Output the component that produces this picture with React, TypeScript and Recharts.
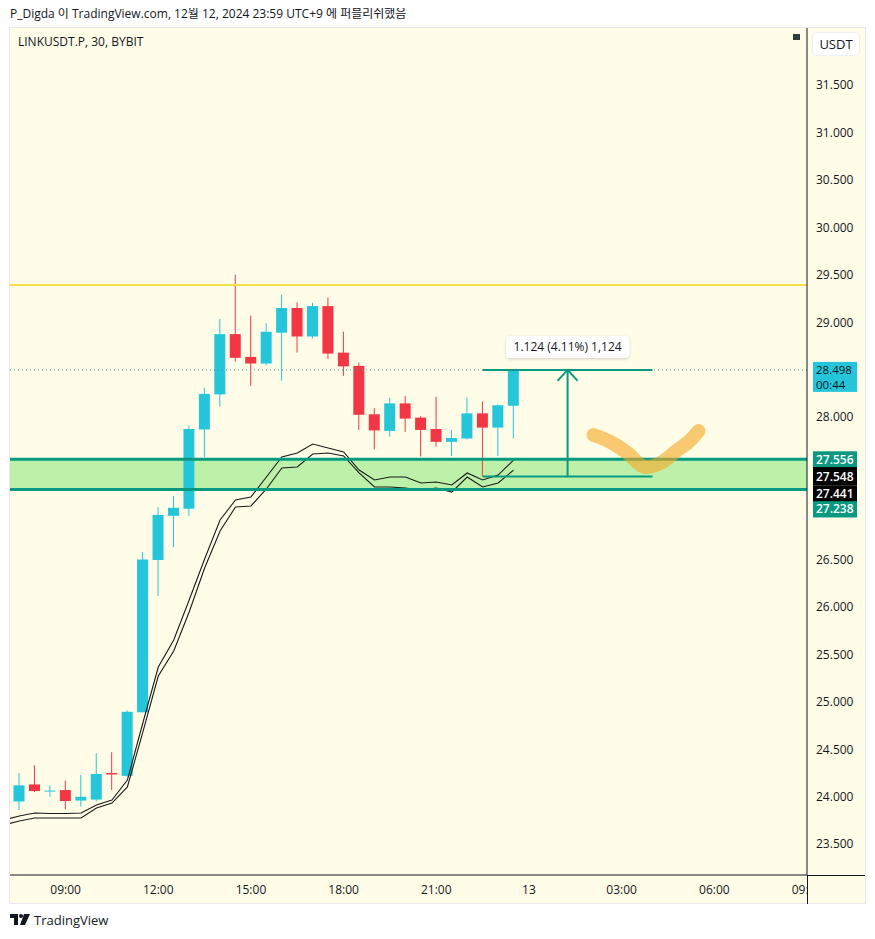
import React from "react";
import {
  ComposedChart,
  Bar,
  Line,
  XAxis,
  YAxis,
  ReferenceLine,
  ReferenceArea,
} from "recharts";

// ---- data (30-minute candles, LINKUSDT.P) ----
const candleIndex = [
  0, 1, 2, 3, 4, 5, 6, 7, 8, 9, 10, 11, 12, 13, 14, 15, 16, 17, 18, 19, 20, 21,
  22, 23, 24, 25, 26, 27, 28, 29, 30, 31, 32,
];
const openValues = [
  23.95, 24.13, 24.06, 24.07, 23.96, 23.97, 24.25, 24.22, 24.89, 26.495, 26.96,
  27.035, 27.87, 28.24, 28.875, 28.635, 28.565, 28.89, 29.15, 28.85, 29.17,
  28.68, 28.54, 28.03, 27.855, 28.145, 27.995, 27.875, 27.74, 27.775, 28.04,
  27.89, 28.12,
];
const highValues = [
  24.25, 24.33, 24.12, 24.17, 24.23, 24.46, 24.47, 24.91, 26.58, 27.05, 27.17,
  27.91, 28.31, 29.035, 29.5, 29.07, 28.99, 29.29, 29.21, 29.205, 29.26, 28.9,
  28.575, 28.095, 28.205, 28.225, 28.01, 28.215, 27.865, 28.205, 28.165,
  28.135, 28.5,
];
const lowValues = [
  23.86, 24.05, 24.0, 23.87, 23.895, 23.95, 24.07, 24.21, 24.89, 26.115, 26.63,
  26.96, 27.58, 28.11, 28.585, 28.33, 28.545, 28.385, 28.68, 28.83, 28.615,
  28.435, 27.865, 27.66, 27.795, 27.845, 27.585, 27.69, 27.59, 27.765, 27.374,
  27.59, 27.775,
];
const closeValues = [
  24.12, 24.06, 24.065, 23.955, 24.0, 24.24, 24.235, 24.895, 26.5, 26.97,
  27.045, 27.875, 28.245, 28.875, 28.625, 28.565, 28.9, 29.15, 28.85, 29.17,
  28.67, 28.535, 28.025, 27.86, 28.145, 27.985, 27.865, 27.74, 27.78, 28.04,
  27.89, 28.125, 28.498,
];

// double-line indicator
const lineIndex = [
  -1, 0, 1, 2, 3, 4, 5, 6, 7, 8, 9, 10, 11, 12, 13, 14, 15, 16, 17, 18, 19, 20,
  21, 22, 23, 24, 25, 26, 27, 28, 29, 30, 31, 32,
];
const upperBand = [
  23.755, 23.797, 23.829, 23.824, 23.824, 23.829, 23.913, 23.966, 24.176,
  24.777, 25.367, 25.652, 26.073, 26.505, 26.916, 27.127, 27.159, 27.369, 27.58,
  27.622, 27.717, 27.675, 27.633, 27.443, 27.338, 27.369, 27.369, 27.306,
  27.317, 27.285, 27.412, 27.338, 27.39, 27.548,
];
const lowerBand = [
  23.702, 23.744, 23.776, 23.776, 23.776, 23.776, 23.881, 23.934, 24.103,
  24.682, 25.272, 25.536, 25.947, 26.41, 26.8, 27.053, 27.064, 27.243, 27.464,
  27.475, 27.612, 27.622, 27.591, 27.412, 27.264, 27.264, 27.253, 27.232,
  27.253, 27.211, 27.369, 27.264, 27.306, 27.441,
];

const timeTicks = [3, 9, 15, 21, 27, 33, 39, 45, 51];
const timeLabels = [
  "09:00",
  "12:00",
  "15:00",
  "18:00",
  "21:00",
  "13",
  "03:00",
  "06:00",
  "09:00",
];
const priceTicks = [
  23.5, 24, 24.5, 25, 25.5, 26, 26.5, 28, 29, 29.5, 30, 30.5, 31, 31.5,
];

const resistanceLevel = 29.393;
const zoneTop = 27.556;
const zoneBottom = 27.238;
const lastPrice = 28.498;
const upperLast = 27.548;
const lowerLast = 27.441;
const countdown = "00:44";

const measureStart = 30;
const measureEnd = 41;
const measureMid = 35.5;
const measureLow = 27.374;
const measureHigh = 28.498;
const measureText = "1.124 (4.11%) 1,124";

const sketchX = [37.18, 38.28, 39.38, 40.23, 40.55, 41.52, 42.62, 43.46, 43.98];
const sketchY = [
  27.812, 27.738, 27.622, 27.496, 27.475, 27.517, 27.654, 27.759, 27.854,
];

// ---- styles ----
const FONT = '"Open Sans", "Noto Sans CJK KR", "Noto Sans", sans-serif';
const UP = "#26C6DA";
const DOWN = "#F23645";
const TEAL = "#089981";
const TEXT = "#131722";
const BG = "#FFFDE8";
const BODY_W = 11;

function Candle(props: any) {
  const { x, y, width, height, payload } = props;
  if (!payload || payload.o == null || !isFinite(y) || !isFinite(x)) return null;
  const { o, h, l, c } = payload;
  const span = h - l;
  const py = (v: number) => y + (span > 0 ? ((h - v) / span) * height : 0);
  const color = c >= o ? UP : DOWN;
  const cx = x + width / 2;
  const top = py(Math.max(o, c));
  const bot = py(Math.min(o, c));
  return (
    <g>
      <line x1={cx} x2={cx} y1={y} y2={y + height} stroke={color} strokeWidth={1} />
      <rect
        x={cx - BODY_W / 2}
        y={top}
        width={BODY_W}
        height={Math.max(bot - top, 1)}
        fill={color}
      />
    </g>
  );
}

function PriceTag(props: any) {
  const { viewBox, text, sub, bg, fg, boxTop, boxH, bold } = props;
  if (!viewBox) return null;
  const x = viewBox.x + viewBox.width + 6;
  const top = viewBox.y + boxTop;
  const fs = sub ? 11.5 : 12;
  return (
    <g>
      <rect x={x} y={top} width={44} height={boxH} fill={bg} />
      <text
        x={x + 3}
        y={sub ? top + 8 : top + boxH / 2}
        dominantBaseline="central"
        fontSize={fs}
        fontFamily={FONT}
        fontWeight={bold ? 600 : 400}
        fill={fg}
      >
        {text}
      </text>
      {sub ? (
        <text
          x={x + 3}
          y={top + 23}
          dominantBaseline="central"
          fontSize={fs}
          fontFamily={FONT}
          fill={fg}
        >
          {sub}
        </text>
      ) : null}
    </g>
  );
}

function MeasureLabel(props: any) {
  const { viewBox } = props;
  if (!viewBox) return null;
  const cx = viewBox.x + viewBox.width / 2;
  const y = viewBox.y;
  return (
    <g>
      <defs>
        <filter id="mshadow" x="-20%" y="-50%" width="140%" height="200%">
          <feDropShadow dx="0" dy="1" stdDeviation="1.5" floodColor="#000" floodOpacity="0.18" />
        </filter>
      </defs>
      <rect
        x={cx - 61.5}
        y={y - 34}
        width={123}
        height={22}
        rx={4}
        fill="#ffffff"
        filter="url(#mshadow)"
      />
      <text
        x={cx}
        y={y - 23}
        textAnchor="middle"
        dominantBaseline="central"
        fontSize={12}
        fontFamily={FONT}
        fill={TEXT}
      >
        {measureText}
      </text>
    </g>
  );
}

function TimeTick(props: any) {
  const { x, y, payload } = props;
  const k = timeTicks.indexOf(payload.value);
  return (
    <text
      x={x}
      y={y}
      dy="0.71em"
      textAnchor="middle"
      fontSize={12}
      fontFamily={FONT}
      fill={TEXT}
    >
      {k >= 0 ? timeLabels[k] : ""}
    </text>
  );
}

function Logo() {
  return (
    <svg width="20" height="12" viewBox="0 0 20 12" style={{ display: "block" }}>
      <path d="M0 0 H8 V11 H4 V4 H0 Z" fill={TEXT} />
      <circle cx="11" cy="2" r="2" fill={TEXT} />
      <path d="M14 0 H20 L15 11 H10 Z" fill={TEXT} />
    </svg>
  );
}

export default function App() {
  const data = lineIndex.map((i, k) => {
    const ci = candleIndex.indexOf(i);
    return {
      i,
      up: upperBand[k],
      lo: lowerBand[k],
      o: ci >= 0 ? openValues[ci] : null,
      h: ci >= 0 ? highValues[ci] : null,
      l: ci >= 0 ? lowValues[ci] : null,
      c: ci >= 0 ? closeValues[ci] : null,
    };
  });
  const sketch = sketchX.map((x, k) => ({ i: x, s: sketchY[k] }));

  return (
    <div
      style={{
        position: "relative",
        margin: -8,
        width: 875,
        height: 939,
        background: "#ffffff",
        overflow: "hidden",
        fontFamily: FONT,
      }}
    >
      <div
        style={{
          position: "absolute",
          left: 10,
          top: 5,
          fontSize: 12,
          lineHeight: "18px",
          color: TEXT,
          whiteSpace: "nowrap",
        }}
      >
        P_Digda 이 TradingView.com, 12월 12, 2024 23:59 UTC+9 에 퍼블리쉬했음
      </div>
      <div
        style={{
          position: "absolute",
          left: 9,
          top: 27,
          width: 857,
          height: 877,
          boxSizing: "border-box",
          border: "1px solid #e6e8ec",
          background: BG,
        }}
      />
      <div style={{ position: "absolute", left: 0, top: 0 }}>
        <ComposedChart
          width={875}
          height={939}
          data={data}
          margin={{ top: 28, right: 9, bottom: 36, left: 10 }}
        >
          <XAxis
            dataKey="i"
            type="number"
            domain={[-0.6, 51]}
            allowDataOverflow
            ticks={timeTicks}
            interval={0}
            tick={<TimeTick />}
            tickLine={false}
            tickSize={0}
            tickMargin={10}
            axisLine={{ stroke: TEXT }}
            height={28}
          />
          <YAxis
            orientation="right"
            type="number"
            domain={[23.1754, 32.1006]}
            allowDataOverflow
            ticks={priceTicks}
            interval={0}
            tickFormatter={(v: number) => v.toFixed(3)}
            tick={{ fill: TEXT, fontSize: 12, fontFamily: FONT }}
            tickLine={false}
            tickSize={0}
            tickMargin={9}
            axisLine={{ stroke: TEXT }}
            width={59}
          />
          <ReferenceLine y={resistanceLevel} stroke="#F5DF4D" strokeWidth={2} />
          <ReferenceLine
            y={lastPrice}
            stroke="#2A9FA8"
            strokeDasharray="1 3"
            label={
              <PriceTag text={lastPrice.toFixed(3)} sub={countdown} bg={UP} fg={TEXT} boxTop={-8} boxH={30} />
            }
          />
          <Bar
            dataKey={(d: any) => (d.o == null ? null : [d.l, d.h])}
            shape={<Candle />}
            barSize={11}
            isAnimationActive={false}
          />
          <Line
            dataKey="up"
            stroke="#1a1a1a"
            strokeWidth={1.1}
            dot={false}
            activeDot={false}
            type="linear"
            isAnimationActive={false}
          />
          <Line
            dataKey="lo"
            stroke="#1a1a1a"
            strokeWidth={1.1}
            dot={false}
            activeDot={false}
            type="linear"
            isAnimationActive={false}
          />
          <ReferenceArea
            y1={zoneBottom}
            y2={zoneTop}
            fill="rgb(12,212,3)"
            fillOpacity={0.27}
            stroke="none"
          />
          <ReferenceLine
            y={zoneTop}
            stroke={TEAL}
            strokeWidth={3}
            label={<PriceTag text={zoneTop.toFixed(3)} bg={TEAL} fg="#ffffff" boxTop={-8} boxH={16} bold />}
          />
          <ReferenceLine
            y={zoneBottom}
            stroke={TEAL}
            strokeWidth={3}
            label={<PriceTag text={zoneBottom.toFixed(3)} bg={TEAL} fg="#ffffff" boxTop={11} boxH={17} bold />}
          />
          <ReferenceLine
            y={upperLast}
            stroke="none"
            label={<PriceTag text={upperLast.toFixed(3)} bg="#000000" fg="#ffffff" boxTop={7} boxH={18} bold />}
          />
          <ReferenceLine
            y={lowerLast}
            stroke="none"
            label={<PriceTag text={lowerLast.toFixed(3)} bg="#000000" fg="#ffffff" boxTop={15} boxH={16} bold />}
          />
          <ReferenceLine
            segment={[
              { x: measureStart, y: measureHigh },
              { x: measureEnd, y: measureHigh },
            ]}
            stroke={TEAL}
            strokeWidth={2}
            label={<MeasureLabel />}
          />
          <ReferenceLine
            segment={[
              { x: measureStart, y: measureLow },
              { x: measureEnd, y: measureLow },
            ]}
            stroke={TEAL}
            strokeWidth={2}
          />
          <ReferenceLine
            segment={[
              { x: measureMid, y: measureLow },
              { x: measureMid, y: measureHigh },
            ]}
            stroke={TEAL}
            strokeWidth={2}
          />
          <ReferenceLine
            segment={[
              { x: measureMid - 0.65, y: measureHigh - 0.116 },
              { x: measureMid, y: measureHigh },
            ]}
            stroke={TEAL}
            strokeWidth={2}
          />
          <ReferenceLine
            segment={[
              { x: measureMid + 0.65, y: measureHigh - 0.116 },
              { x: measureMid, y: measureHigh },
            ]}
            stroke={TEAL}
            strokeWidth={2}
          />
          <Line
            data={sketch}
            dataKey="s"
            stroke="#F5A623"
            strokeOpacity={0.6}
            strokeWidth={14}
            strokeLinecap="round"
            strokeLinejoin="round"
            dot={false}
            activeDot={false}
            type="monotone"
            isAnimationActive={false}
          />
        </ComposedChart>
      </div>
      {/* hide the part of the last time label that falls under the price scale */}
      <div
        style={{ position: "absolute", left: 808, top: 876, width: 57, height: 27, background: BG }}
      />
      <div style={{ position: "absolute", left: 806.5, top: 875, width: 1, height: 29, background: TEXT }} />
      <div style={{ position: "absolute", left: 807, top: 874.5, width: 58, height: 1, background: TEXT }} />
      <div
        style={{
          position: "absolute",
          left: 18,
          top: 34,
          fontSize: 12,
          lineHeight: "16px",
          color: TEXT,
        }}
      >
        LINKUSDT.P, 30, BYBIT
      </div>
      <div
        style={{ position: "absolute", left: 793, top: 34, width: 7, height: 6, background: "#2f3b3c" }}
      />
      <div
        style={{
          position: "absolute",
          left: 812,
          top: 32,
          width: 48,
          height: 24,
          boxSizing: "border-box",
          background: "#ffffff",
          border: "1px solid #eef0f3",
          borderRadius: 4,
          fontSize: 13,
          lineHeight: "22px",
          textAlign: "center",
          color: TEXT,
        }}
      >
        USDT
      </div>
      <div
        style={{
          position: "absolute",
          left: 10,
          top: 912,
          display: "flex",
          alignItems: "center",
          gap: 4,
        }}
      >
        <Logo />
        <span style={{ fontSize: 13, color: TEXT, lineHeight: "16px" }}>TradingView</span>
      </div>
    </div>
  );
}
